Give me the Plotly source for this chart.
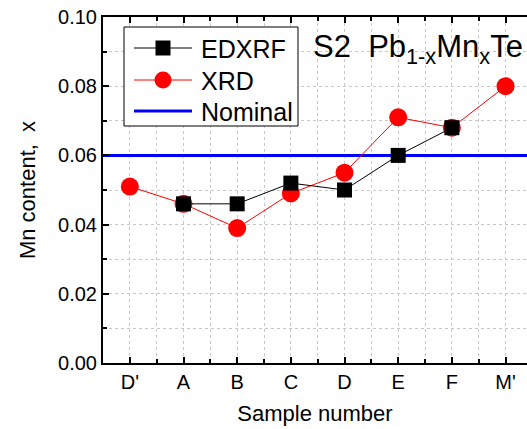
import plotly.graph_objects as go

categories = ["D'", "A", "B", "C", "D", "E", "F", "M'"]
edxrf_cats = ["A", "B", "C", "D", "E", "F"]
edxrf_vals = [0.046, 0.046, 0.052, 0.050, 0.060, 0.068]
xrd_cats = ["D'", "A", "B", "C", "D", "E", "F", "M'"]
xrd_vals = [0.051, 0.046, 0.039, 0.049, 0.055, 0.071, 0.068, 0.080]
nominal_val = 0.06
y_ticks = [0.00, 0.02, 0.04, 0.06, 0.08, 0.10]

idx = {c: i for i, c in enumerate(categories)}
FONT = "Arial, Liberation Sans, sans-serif"

W, H = 527, 429
L, R, T, B = 103, 0, 17, 66
PW, PH = W - L - R, H - T - B


def px(x):
    return (x - L) / PW


def py(y):
    return 1 - (y - T) / PH


fig = go.Figure()
fig.add_trace(go.Scatter(
    x=[-0.5, len(categories) - 0.5], y=[nominal_val, nominal_val],
    mode="lines", name="Nominal", line=dict(color="#0000ff", width=3),
))
fig.add_trace(go.Scatter(
    x=[idx[c] for c in xrd_cats], y=xrd_vals, mode="lines+markers", name="XRD",
    line=dict(color="#ff0000", width=1),
    marker=dict(symbol="circle", size=18, color="#ff0000"),
))
fig.add_trace(go.Scatter(
    x=[idx[c] for c in edxrf_cats], y=edxrf_vals, mode="lines+markers", name="EDXRF",
    line=dict(color="#000000", width=1),
    marker=dict(symbol="square", size=15, color="#000000"),
))

# manual legend (box, sample lines, marker glyphs, labels)
shapes = []
shapes.append(dict(type="rect", xref="paper", yref="paper",
                   x0=px(124), x1=px(298), y0=py(126), y1=py(27),
                   line=dict(color="black", width=1), fillcolor="white", layer="above"))
legend_items = [
    ("EDXRF", 48, "#000000", 1, "square"),
    ("XRD", 80, "#ff0000", 1, "circle"),
    ("Nominal", 111, "#0000ff", 3, None),
]
annotations = []
for name, yc, col, lw, sym in legend_items:
    shapes.append(dict(type="line", xref="paper", yref="paper",
                       x0=px(134), x1=px(192), y0=py(yc), y1=py(yc),
                       line=dict(color=col, width=lw), layer="above"))
    if sym == "square":
        shapes.append(dict(type="rect", xref="paper", yref="paper",
                           x0=px(155.5), x1=px(170.5), y0=py(yc + 7.5), y1=py(yc - 7.5),
                           line=dict(width=0), fillcolor=col, layer="above"))
    elif sym == "circle":
        shapes.append(dict(type="circle", xref="paper", yref="paper",
                           x0=px(154.5), x1=px(171.5), y0=py(yc + 8.5), y1=py(yc - 8.5),
                           line=dict(width=0), fillcolor=col, layer="above"))
    annotations.append(dict(xref="paper", yref="paper", x=px(199), y=py(yc + 1),
                            xanchor="left", yanchor="middle", showarrow=False,
                            text=name, font=dict(size=25, family=FONT, color="black")))

annotations.append(dict(
    xref="paper", yref="paper", x=px(311), y=py(27),
    xanchor="left", yanchor="top", showarrow=False,
    text="S2  Pb<sub>1-x</sub>Mn<sub>x</sub>Te",
    font=dict(size=31, family=FONT, color="black"),
))

fig.update_layout(
    width=W, height=H,
    margin=dict(l=L, r=R, t=T, b=B),
    paper_bgcolor="white", plot_bgcolor="white",
    font=dict(family=FONT, color="black", size=20),
    showlegend=False,
    shapes=shapes,
    annotations=annotations,
    xaxis=dict(
        range=[-0.5, 7.4],
        tickmode="array", tickvals=list(range(len(categories))), ticktext=categories,
        ticks="inside", ticklen=6, tickwidth=1.5, tickcolor="black",
        showline=True, linecolor="black", linewidth=2, mirror="ticks",
        showgrid=True, gridcolor="#c8c8c8", griddash="dot", gridwidth=1,
        zeroline=False,
        minor=dict(tickmode="array", tickvals=[i + 0.5 for i in range(-1, len(categories))],
                   ticks="inside", ticklen=4, tickcolor="black",
                   showgrid=True, gridcolor="#c8c8c8", griddash="dot", gridwidth=1),
        title=dict(text="Sample number", font=dict(size=22), standoff=14),
        tickfont=dict(size=20),
    ),
    yaxis=dict(
        range=[0, 0.1],
        tickmode="array", tickvals=y_ticks, tickformat=".2f",
        ticks="inside", ticklen=6, tickwidth=1.5, tickcolor="black",
        showline=True, linecolor="black", linewidth=2,
        showgrid=True, gridcolor="#c8c8c8", griddash="dot", gridwidth=1,
        zeroline=False,
        minor=dict(dtick=0.01, ticks="inside", ticklen=4, tickcolor="black",
                   showgrid=True, gridcolor="#c8c8c8", griddash="dot", gridwidth=1),
        title=dict(text="Mn content,  x", font=dict(size=22), standoff=16),
        tickfont=dict(size=20),
    ),
)

fig.write_html("out.html")
